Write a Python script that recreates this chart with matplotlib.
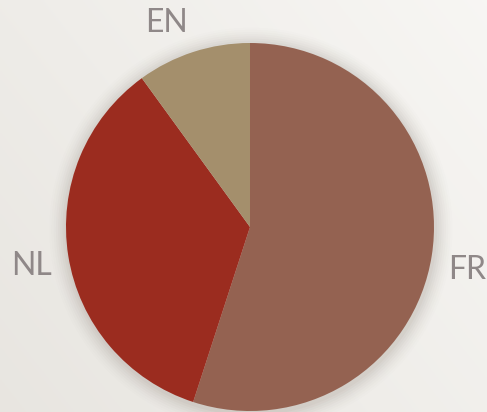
import matplotlib
matplotlib.use("Agg")
import matplotlib.pyplot as plt
import numpy as np

# data
labels = ["FR", "NL", "EN"]
shares = [55, 35, 10]
colors = ["#946251", "#9B2C1F", "#A48F6C"]

W, H, DPI = 487, 412, 100
R_PX = 184
CX, CY = 250, 227

fig = plt.figure(figsize=(W / DPI, H / DPI), dpi=DPI)
ax = fig.add_axes([0, 0, 1, 1])

# axis limits so the pie (radius 1) lands where it should
xl = (-CX / R_PX, (W - CX) / R_PX)
yl = (-(H - CY) / R_PX, CY / R_PX)

# soft background gradient
gx, gy = np.meshgrid(np.linspace(0, 1, 200), np.linspace(0, 1, 200))
g = 0.6 * gx + 0.4 * gy
c0 = np.array([0.91, 0.90, 0.88])
c1 = np.array([0.97, 0.965, 0.955])
img = c0 + (c1 - c0) * g[..., None]
ax.imshow(img, extent=(xl[0], xl[1], yl[0], yl[1]), origin="lower",
          aspect="auto", zorder=0)

# shadow
for i, a in enumerate(np.linspace(0.06, 0.01, 8)):
    sh = plt.Circle((0.005, -0.012), 1.0 + 0.012 * (i + 1), color="#5a4a3a",
                    alpha=a * 0.6, lw=0, zorder=1)
    ax.add_patch(sh)

wedges, texts = ax.pie(shares, labels=labels, colors=colors, startangle=90,
                       counterclock=False, labeldistance=1.1, radius=1.0,
                       wedgeprops=dict(linewidth=0, zorder=2),
                       textprops=dict(color="#8F8888", fontsize=23,
                                      family="Lato", fontweight="normal"))
# small nudges of the label text
nudges = {"FR": (-0.01, -0.06), "NL": (0.01, -0.04), "EN": (0.0, 0.06)}
for t in texts:
    t.set_va("center")
    t.set_zorder(3)
    x, y = t.get_position()
    dx, dy = nudges[t.get_text()]
    t.set_position((x + dx, y + dy))

ax.set_xlim(*xl)
ax.set_ylim(*yl)
ax.set_aspect("auto")
ax.axis("off")

fig.savefig("out.png", dpi=DPI)
